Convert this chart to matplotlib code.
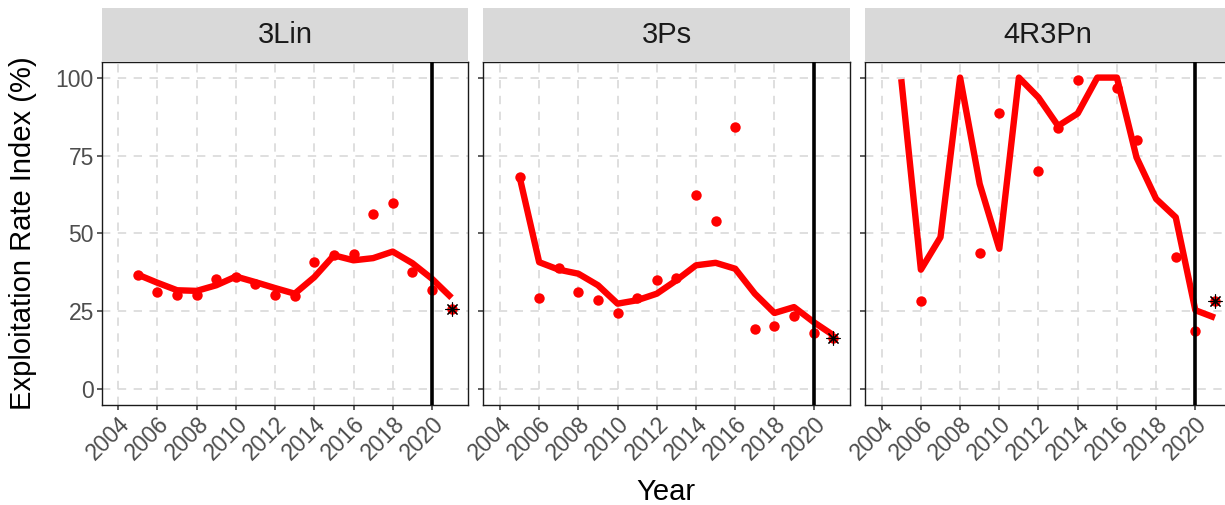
import numpy as np
import matplotlib.pyplot as plt

plt.rcParams['font.family'] = ['Liberation Sans', 'DejaVu Sans']

# Exploitation rate index by stock, 2005-2021
years = np.arange(2005, 2022)
stocks = ['3Lin', '3Ps', '4R3Pn']

# smoothed line
lin_line = [36.8, 34.2, 31.8, 31.6, 33.4, 36.2, 34.4, 32.5, 30.7, 36.0, 43.0, 41.4, 42.1, 44.2, 40.5, 35.5, 29.4]
ps_line = [68.2, 40.8, 38.4, 37.1, 33.4, 27.5, 28.6, 30.7, 35.0, 39.8, 40.6, 38.7, 30.7, 24.5, 26.4, 21.6, 17.4]
pn_line = [99.5, 38.4, 48.8, 100, 65.9, 45.1, 100, 93.6, 84.5, 88.5, 100, 100, 74.4, 61.1, 55.2, 25.4, 23.0]

# annual points
lin_pts = [36.8, 31.2, 30.4, 30.2, 35.5, 36.2, 33.9, 30.4, 29.9, 40.8, 43.0, 43.5, 56.3, 59.8, 37.5, 31.8, 25.9]
ps_pts = [68.2, 29.4, 39.0, 31.3, 28.8, 24.6, 29.4, 35.0, 35.8, 62.5, 54.1, 84.2, 19.4, 20.4, 23.6, 18.1, 16.6]
pn_pts = [np.nan, 28.4, np.nan, np.nan, 43.7, 88.6, np.nan, 70.1, 83.7, 99.1, np.nan, 96.8, 80.0, np.nan, 42.6, 18.8, 28.4]

panels = [(stocks[0], lin_line, lin_pts),
          (stocks[1], ps_line, ps_pts),
          (stocks[2], pn_line, pn_pts)]

W, H = 1225, 505
fig = plt.figure(figsize=(W / 100, H / 100), dpi=100)

lefts = [101.6, 483.3, 865.0]
pw = 366.6
top, bottom = 62, 405
strip_top = 8

for i, (name, line, pts) in enumerate(panels):
    l = lefts[i]
    ax = fig.add_axes([l / W, (H - bottom) / H, pw / W, (bottom - top) / H])
    ax.grid(True, color='#d9d9d9', linestyle=(0, (5, 4.5)), linewidth=1.2)
    ax.set_axisbelow(True)

    ax.plot(years, line, color='red', lw=4.6, solid_capstyle='butt',
            solid_joinstyle='round', zorder=3)
    ax.plot(years, pts, 'o', color='red', ms=7.5, mec='none', zorder=4)
    ax.axvline(2020, color='black', lw=2.6, zorder=5)
    ax.plot(years[-1], pts[-1], marker=(8, 2, 0), color='black', ms=10,
            mew=0.8, zorder=6)

    ax.set_xlim(2003.15, 2021.85)
    ax.set_ylim(-5, 105)
    xt = np.arange(2004, 2021, 2)
    ax.set_xticks(xt)
    ax.set_xticklabels([str(x) for x in xt], rotation=45, ha='right',
                       va='top', rotation_mode='anchor')
    ax.set_yticks([0, 25, 50, 75, 100])
    if i > 0:
        ax.set_yticklabels([])
    ax.tick_params(direction='out', length=3.5, width=1.1, color='#333333',
                   labelcolor='#4d4d4d', labelsize=16.5, pad=2)
    for sp in ax.spines.values():
        sp.set_color('#1a1a1a')
        sp.set_linewidth(1.0)

    sax = fig.add_axes([l / W, (H - top) / H, pw / W, (top - strip_top) / H])
    sax.set_facecolor('#d9d9d9')
    sax.set_xticks([])
    sax.set_yticks([])
    for sp in sax.spines.values():
        sp.set_visible(False)
    sax.text(0.5, 0.5, name, ha='center', va='center', fontsize=21,
             color='#1a1a1a', transform=sax.transAxes)

fig.text(23 / W, 1 - 233.5 / H, 'Exploitation Rate Index (%)', rotation=90,
         ha='center', va='center', fontsize=21)
fig.text(666 / W, 1 - 492 / H, 'Year', ha='center', va='center', fontsize=21)

fig.savefig('out.png', dpi=100)
